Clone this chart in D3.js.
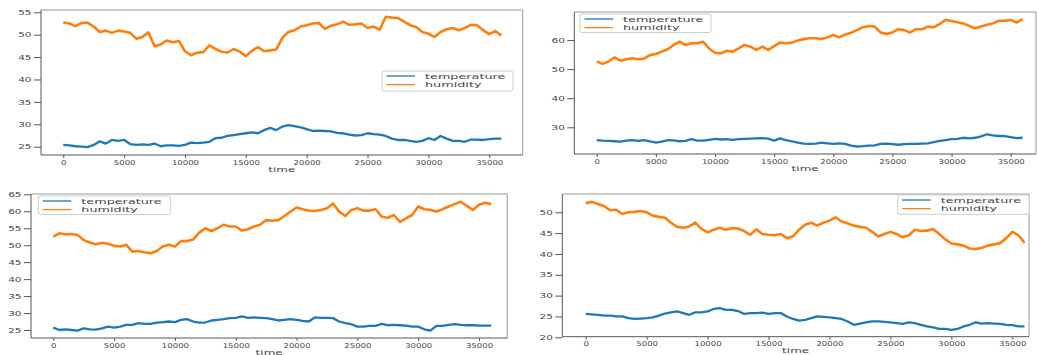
<!DOCTYPE html>
<html>
<head>
<meta charset="utf-8">
<script src="https://cdn.jsdelivr.net/npm/d3@7"></script>
<style>
  html, body { margin: 0; padding: 0; background: #fff; }
  svg { display: block; }
  text { font-family: "DejaVu Sans", sans-serif; fill: #444; }
</style>
</head>
<body>
<svg id="chart" width="1037" height="355"></svg>
<script>
// Sensor log: four runs of temperature and humidity sampled every 500 time units.
const times = d3.range(0, 36001, 500);
const timeTicks = [0, 5000, 10000, 15000, 20000, 25000, 30000, 35000];
const seriesNames = ["temperature", "humidity"];

const tempA = [25.4,25.3,25.1,25.0,24.9,25.4,26.2,25.7,26.5,26.3,26.5,25.6,25.4,25.5,25.4,25.7,25.1,25.3,25.3,25.2,
  25.4,25.9,25.8,25.9,26.1,26.9,27.0,27.4,27.6,27.8,28.0,28.2,28.0,28.7,29.2,28.7,29.5,29.8,29.6,29.3,
  28.9,28.5,28.6,28.5,28.4,28.1,28.0,27.7,27.5,27.6,28.0,27.8,27.7,27.4,26.8,26.5,26.5,26.3,26.1,26.3,
  26.9,26.5,27.4,26.8,26.3,26.3,26.1,26.6,26.6,26.5,26.7,26.8,26.8];
const humA = [52.7,52.5,51.9,52.6,52.7,51.8,50.6,50.9,50.4,50.9,50.7,50.4,49.1,49.5,50.5,47.4,47.8,48.7,48.3,48.6,
  46.3,45.4,46.0,46.1,47.6,46.8,46.2,46.0,46.8,46.2,45.2,46.4,47.2,46.3,46.5,46.7,49.3,50.6,51.0,51.8,
  52.1,52.5,52.6,51.3,52.0,52.3,52.9,52.2,52.3,52.5,51.5,51.8,51.1,54.0,53.8,53.7,52.9,52.1,51.7,50.6,
  50.2,49.5,50.6,51.2,51.5,51.0,51.5,52.2,52.1,51.0,50.1,50.8,49.8];

const tempB = [25.6,25.4,25.3,25.2,25.1,25.4,25.6,25.3,25.6,25.2,24.7,25.1,25.6,25.5,25.2,25.3,25.9,25.4,25.4,25.7,
  26.0,25.8,25.9,25.7,25.9,26.0,26.1,26.2,26.3,26.1,25.4,26.2,25.6,25.2,24.7,24.4,24.3,24.4,24.7,24.5,
  24.3,24.5,24.3,23.7,23.4,23.5,23.7,23.8,24.3,24.4,24.2,24.0,24.2,24.3,24.3,24.4,24.5,24.9,25.3,25.6,
  25.9,26.0,26.4,26.2,26.4,26.9,27.6,27.2,27.0,27.0,26.6,26.3,26.4];
const humB = [52.6,51.8,52.6,54.0,52.9,53.4,53.7,53.4,53.6,54.8,55.2,56.0,56.8,58.3,59.4,58.3,58.9,58.9,59.4,57.1,
  55.6,55.4,56.3,56.0,57.1,58.3,57.7,56.6,57.7,56.6,57.9,59.1,58.9,59.1,59.8,60.3,60.6,60.6,60.3,60.9,
  61.7,60.9,61.9,62.5,63.4,64.4,64.8,64.6,62.6,62.1,62.6,63.7,63.4,62.6,63.7,63.7,64.6,64.4,65.5,66.9,
  66.5,66.1,65.7,64.8,64.0,64.6,65.2,65.7,66.6,66.6,66.9,66.0,67.2];

const tempC = [25.7,25.0,25.2,25.0,24.8,25.5,25.2,25.1,25.5,26.0,25.7,26.0,26.5,26.5,27.0,26.8,26.8,27.2,27.3,27.5,
  27.3,28.0,28.2,27.5,27.2,27.2,27.8,28.0,28.2,28.5,28.6,29.0,28.6,28.7,28.6,28.5,28.2,27.8,28.0,28.2,
  28.0,27.7,27.5,28.7,28.6,28.6,28.5,27.5,27.0,26.7,26.0,26.0,26.2,26.2,26.8,26.4,26.5,26.4,26.3,26.0,
  26.0,25.2,24.8,26.2,26.2,26.5,26.7,26.5,26.4,26.4,26.3,26.3,26.3];
const humC = [52.5,53.5,53.2,53.3,53.0,51.5,50.8,50.3,50.7,50.4,49.8,49.6,50.1,48.1,48.3,47.9,47.6,48.3,49.6,50.1,
  49.6,51.2,51.2,51.7,53.7,55.0,54.2,55.0,56.0,55.5,55.5,54.3,54.7,55.5,56.0,57.4,57.2,57.4,58.6,59.9,
  61.1,60.6,60.2,60.1,60.4,60.9,62.3,59.9,58.6,60.4,60.9,60.2,60.2,60.6,58.4,58.1,58.9,56.9,57.9,58.9,
  61.4,60.6,60.4,59.9,60.6,61.4,62.1,62.8,61.6,60.4,61.9,62.5,62.1];

const tempD = [25.6,25.5,25.4,25.2,25.2,25.0,25.0,24.6,24.4,24.5,24.6,24.8,25.2,25.7,26.0,26.2,25.8,25.4,26.0,26.0,
  26.2,26.8,27.0,26.6,26.6,26.3,25.6,25.8,25.8,25.9,25.6,25.8,25.8,25.0,24.4,24.0,24.2,24.6,25.0,24.9,
  24.8,24.6,24.4,23.8,23.0,23.3,23.6,23.8,23.8,23.7,23.6,23.4,23.2,23.6,23.4,23.0,22.6,22.4,22.0,22.0,
  21.8,22.0,22.6,23.0,23.6,23.3,23.4,23.3,23.2,23.0,22.9,22.6,22.6];
const humD = [52.2,52.5,52.0,51.5,50.5,50.6,49.6,50.0,50.1,50.3,50.0,49.2,48.9,48.7,47.5,46.5,46.3,46.6,47.5,46.0,
  45.2,45.8,46.3,45.8,46.2,46.1,45.5,44.6,45.9,44.8,44.6,44.5,44.8,43.8,44.2,45.8,47.0,47.5,46.8,47.5,
  48.0,48.8,47.8,47.3,46.8,46.5,46.3,45.3,44.2,44.8,45.3,44.8,44.0,44.5,45.8,45.5,45.6,46.0,44.8,43.5,
  42.5,42.3,42.0,41.3,41.2,41.5,42.0,42.3,42.6,43.8,45.3,44.5,42.7];

const yTicksA = [25, 30, 35, 40, 45, 50, 55];
const yTicksB = [30, 40, 50, 60];
const yTicksC = [25, 30, 35, 40, 45, 50, 55, 60, 65];
const yTicksD = [20, 25, 30, 35, 40, 45, 50];

const colors = { temperature: "#1f77b4", humidity: "#ff7f0e" };

// Frame geometry and legend placement for each panel
const panels = [
  { temp: tempA, hum: humA, yTicks: yTicksA,
    box: { l: 41, r: 522.7, t: 10, b: 155 }, xDom: [-1830, 37750], yDom: [23.15, 55.5],
    legend: { x: 382, y: 71, w: 131, h: 20 } },
  { temp: tempB, hum: humB, yTicks: yTicksB,
    box: { l: 574.3, r: 1036, t: 12, b: 154 }, xDom: [-1894, 37138], yDom: [20.82, 69.62],
    legend: { x: 580, y: 14, w: 131, h: 18.5 } },
  { temp: tempC, hum: humC, yTicks: yTicksC,
    box: { l: 31, r: 507.3, t: 194, b: 338 }, xDom: [-1833, 37326], yDom: [22.64, 65.09],
    legend: { x: 38.3, y: 196, w: 132.4, h: 18.5 } },
  { temp: tempD, hum: humD, yTicks: yTicksD,
    box: { l: 562.3, r: 1029, t: 194, b: 336.7 }, xDom: [-1919, 36369], yDom: [20.14, 54.39],
    legend: { x: 897.7, y: 195, w: 131.6, h: 19.3 } }
];

const svg = d3.select("#chart");

panels.forEach(p => {
  const x = d3.scaleLinear().domain(p.xDom).range([p.box.l, p.box.r]);
  const y = d3.scaleLinear().domain(p.yDom).range([p.box.b, p.box.t]);
  const g = svg.append("g");

  // data lines
  const line = vals => d3.line().x((d, i) => x(times[i])).y(d => y(d))(vals);
  g.append("path").attr("d", line(p.temp)).attr("fill", "none")
    .attr("stroke", colors.temperature).attr("stroke-width", 2.3).attr("stroke-linejoin", "round");
  g.append("path").attr("d", line(p.hum)).attr("fill", "none")
    .attr("stroke", colors.humidity).attr("stroke-width", 2.6).attr("stroke-linejoin", "round");

  // axes
  const xAxis = g.append("g").attr("transform", `translate(0,${p.box.b})`)
    .call(d3.axisBottom(x).tickValues(timeTicks).tickSize(3).tickPadding(2).tickFormat(d3.format("d")));
  const yAxis = g.append("g").attr("transform", `translate(${p.box.l},0)`)
    .call(d3.axisLeft(y).tickValues(p.yTicks).tickSize(7).tickPadding(2.5).tickFormat(d3.format("d")));
  [xAxis, yAxis].forEach(a => {
    a.select(".domain").remove();
    a.selectAll(".tick line").attr("stroke", "#555").attr("stroke-width", 1);
    a.selectAll(".tick text").attr("fill", "#444").style("font-size", "7px");
  });
  xAxis.selectAll(".tick text").each(function () {
    const t = d3.select(this);
    t.attr("transform", `translate(0,${+t.attr("y")}) scale(1.22,0.95)`).attr("y", 0);
  });
  yAxis.selectAll(".tick text").each(function () {
    const t = d3.select(this);
    t.attr("transform", `translate(${+t.attr("x")},0) scale(1.5,0.95)`).attr("x", 0);
  });

  // frame: darker left/bottom spines, lighter top/right
  g.append("line").attr("x1", p.box.l).attr("x2", p.box.r).attr("y1", p.box.t).attr("y2", p.box.t)
    .attr("stroke", "#999");
  g.append("line").attr("x1", p.box.r).attr("x2", p.box.r).attr("y1", p.box.t).attr("y2", p.box.b)
    .attr("stroke", "#999");
  g.append("line").attr("x1", p.box.l).attr("x2", p.box.l).attr("y1", p.box.t).attr("y2", p.box.b)
    .attr("stroke", "#555");
  g.append("line").attr("x1", p.box.l).attr("x2", p.box.r).attr("y1", p.box.b).attr("y2", p.box.b)
    .attr("stroke", "#555");

  // x-axis title
  g.append("text").text("time")
    .attr("transform", `translate(${(p.box.l + p.box.r) / 2},${p.box.b + 16.5}) scale(1.5,0.95)`)
    .attr("text-anchor", "middle").style("font-size", "8px");

  // legend
  const L = p.legend;
  const lg = g.append("g").attr("transform", `translate(${L.x},${L.y})`);
  lg.append("rect").attr("width", L.w).attr("height", L.h).attr("rx", 2)
    .attr("fill", "#fff").attr("fill-opacity", 0.8).attr("stroke", "#ccc").attr("stroke-width", 1);
  seriesNames.forEach((name, i) => {
    const cy = 5 + i * 8.6;
    lg.append("line").attr("x1", 4.5).attr("x2", 33).attr("y1", cy).attr("y2", cy)
      .attr("stroke", colors[name]).attr("stroke-width", 1.3);
    lg.append("text").text(name)
      .attr("transform", `translate(43,${cy}) scale(1.6,0.95)`)
      .attr("dy", "0.35em").style("font-size", "8px");
  });
});
</script>
</body>
</html>
